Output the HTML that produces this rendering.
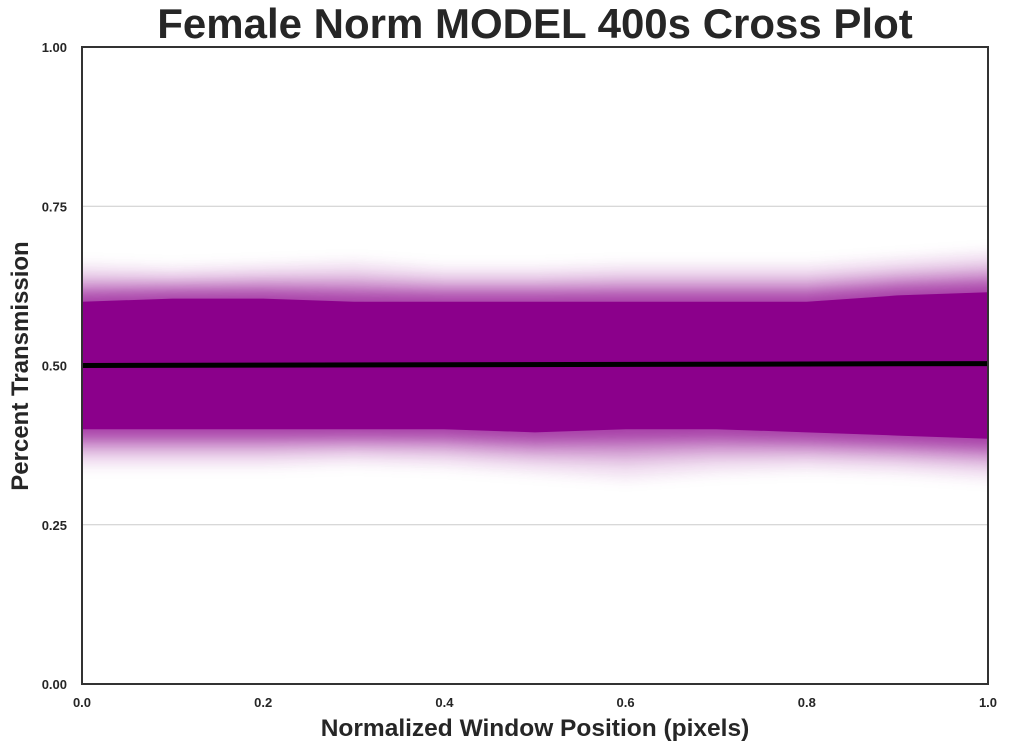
<!DOCTYPE html>
<html><head><meta charset="utf-8"><style>
body{margin:0;background:#fff;width:1009px;height:750px;overflow:hidden}
svg text{font-family:"Liberation Sans",sans-serif;font-weight:bold;fill:#262626}
</style></head><body>
<svg id="chart" width="1009" height="750" xmlns="http://www.w3.org/2000/svg">
<defs><filter id="blur" x="0" y="-0.5" width="1" height="2"><feGaussianBlur stdDeviation="0 6"/></filter>
<clipPath id="clip"><rect x="82" y="47" width="906" height="637"/></clipPath></defs>
<text x="535" y="38" text-anchor="middle" font-size="42">Female Norm MODEL 400s Cross Plot</text>
<text x="535" y="736" text-anchor="middle" font-size="24.5">Normalized Window Position (pixels)</text>
<text transform="translate(28,366) rotate(-90)" text-anchor="middle" font-size="24">Percent Transmission</text>
<g id="grid"></g><g id="band" clip-path="url(#clip)"></g><g id="ticks"></g>
<line id="meanline" stroke="#000" stroke-width="5"/>
<rect x="82" y="47" width="906" height="637" fill="none" stroke="#333" stroke-width="2"/>
</svg>
<script>
const xTicks=[0,0.2,0.4,0.6,0.8,1.0];
const xTickLabels=["0.0","0.2","0.4","0.6","0.8","1.0"];
const yTicks=[0,0.25,0.5,0.75,1.0];
const yTickLabels=["0.00","0.25","0.50","0.75","1.00"];
const bandX=[0,0.1,0.2,0.3,0.4,0.5,0.6,0.7,0.8,0.9,1.0];
const solidUpper=[0.60,0.605,0.605,0.60,0.60,0.60,0.60,0.60,0.60,0.61,0.615];
const solidLower=[0.40,0.40,0.40,0.40,0.40,0.395,0.40,0.40,0.395,0.39,0.385];
const haloUpper=[0.66,0.655,0.66,0.665,0.655,0.655,0.66,0.66,0.66,0.67,0.68];
const haloLower=[0.34,0.34,0.34,0.345,0.34,0.33,0.32,0.33,0.335,0.33,0.32];
const meanStart=0.500, meanEnd=0.503;
const X=v=>82+v*906, Y=v=>684-v*637;
const NS="http://www.w3.org/2000/svg";
function mk(t,a,p){const e=document.createElementNS(NS,t);for(const k in a)e.setAttribute(k,a[k]);p.appendChild(e);return e;}
const grid=document.getElementById('grid'),ticks=document.getElementById('ticks'),band=document.getElementById('band');
yTicks.forEach((v,i)=>{
 if(v>0&&v<1){const l=mk('line',{x1:82,x2:988,y1:Y(v),y2:Y(v),stroke:'#ccc','stroke-width':1},grid);
 
 }
 const t=mk('text',{x:67,y:Y(v)+5,'text-anchor':'end','font-size':13},ticks);t.textContent=yTickLabels[i];
 
 
});
xTicks.forEach((v,i)=>{
 const t=mk('text',{x:X(v),y:707,'text-anchor':'middle','font-size':13},ticks);t.textContent=xTickLabels[i];
 
 
});
function poly(up,lo){let pts=[];
 pts.push((X(0)-20)+','+Y(up(0)));
 bandX.forEach((x,i)=>pts.push(X(x)+','+Y(up(i))));
 pts.push((X(1)+20)+','+Y(up(bandX.length-1)));
 pts.push((X(1)+20)+','+Y(lo(bandX.length-1)));
 for(let i=bandX.length-1;i>=0;i--)pts.push(X(bandX[i])+','+Y(lo(i)));
 pts.push((X(0)-20)+','+Y(lo(0)));
 return pts.join(' ');}
const layers=[[1,0.1],[0.7,0.18],[0.45,0.3],[0.2,0.5]];
layers.forEach(([f,op])=>{
 const p=mk('polygon',{points:poly(i=>solidUpper[i]+(haloUpper[i]-solidUpper[i])*f,i=>solidLower[i]-(solidLower[i]-haloLower[i])*f),fill:'#8b008b','fill-opacity':op,filter:'url(#blur)'},band);
 
 
});
const s=mk('polygon',{points:poly(i=>solidUpper[i],i=>solidLower[i]),fill:'#8b008b'},band);


const m=document.getElementById('meanline');
m.setAttribute('x1',X(0));m.setAttribute('x2',X(1));m.setAttribute('y1',Y(meanStart));m.setAttribute('y2',Y(meanEnd));
</script>
</body></html>
